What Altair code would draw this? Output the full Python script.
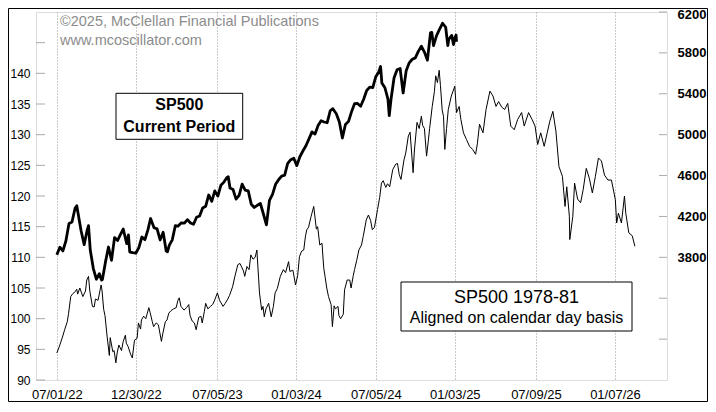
import altair as alt
import pandas as pd

# ---------------- data ----------------
# S&P 500, current period (right axis)
cur_dates = [
    "2022-07-01", "2022-07-08", "2022-07-15", "2022-07-22", "2022-07-29",
    "2022-08-05", "2022-08-12", "2022-08-16", "2022-08-19", "2022-08-26",
    "2022-09-02", "2022-09-09", "2022-09-12", "2022-09-16", "2022-09-23", "2022-09-30",
    "2022-10-07", "2022-10-12", "2022-10-14", "2022-10-21", "2022-10-28",
    "2022-11-04", "2022-11-11", "2022-11-18", "2022-11-25",
    "2022-12-01", "2022-12-09", "2022-12-13", "2022-12-16", "2022-12-23", "2022-12-30",
    "2023-01-06", "2023-01-13", "2023-01-20", "2023-01-27",
    "2023-02-02", "2023-02-10", "2023-02-17", "2023-02-24",
    "2023-03-03", "2023-03-10", "2023-03-13", "2023-03-17", "2023-03-24", "2023-03-31",
    "2023-04-06", "2023-04-14", "2023-04-21", "2023-04-28",
    "2023-05-05", "2023-05-12", "2023-05-19", "2023-05-26",
    "2023-06-02", "2023-06-09", "2023-06-16", "2023-06-23", "2023-06-30",
    "2023-07-07", "2023-07-14", "2023-07-21", "2023-07-28", "2023-07-31",
    "2023-08-04", "2023-08-11", "2023-08-18", "2023-08-25",
    "2023-09-01", "2023-09-08", "2023-09-15", "2023-09-22", "2023-09-29",
    "2023-10-06", "2023-10-13", "2023-10-20", "2023-10-27",
    "2023-11-03", "2023-11-10", "2023-11-17", "2023-11-24",
    "2023-12-01", "2023-12-08", "2023-12-15", "2023-12-22", "2023-12-29",
    "2024-01-05", "2024-01-12", "2024-01-19", "2024-01-26",
    "2024-02-02", "2024-02-09", "2024-02-16", "2024-02-23",
    "2024-03-01", "2024-03-08", "2024-03-15", "2024-03-22", "2024-03-28",
    "2024-04-05", "2024-04-12", "2024-04-19", "2024-04-26",
    "2024-05-03", "2024-05-10", "2024-05-17", "2024-05-24", "2024-05-31",
    "2024-06-07", "2024-06-14", "2024-06-21", "2024-06-28",
    "2024-07-05", "2024-07-12", "2024-07-16", "2024-07-19", "2024-07-26",
    "2024-08-02", "2024-08-05", "2024-08-09", "2024-08-16", "2024-08-23", "2024-08-30",
    "2024-09-06", "2024-09-13", "2024-09-20", "2024-09-27",
    "2024-10-04", "2024-10-11", "2024-10-18", "2024-10-25",
    "2024-11-01", "2024-11-08", "2024-11-11", "2024-11-15", "2024-11-22", "2024-11-29",
    "2024-12-06", "2024-12-13", "2024-12-18", "2024-12-20", "2024-12-27", "2024-12-31",
    "2025-01-03", "2025-01-06", "2025-01-07",
]
cur_values = [
    3825, 3899, 3863, 3962, 4130,
    4145, 4280, 4305, 4228, 4058,
    3924, 4067, 4110, 3873, 3693, 3586,
    3640, 3577, 3583, 3753, 3901,
    3771, 3993, 3965, 4026,
    4077, 3934, 4019, 3852, 3845, 3840,
    3895, 3999, 3973, 4071,
    4180, 4090, 4079, 3970,
    4046, 3862, 3855, 3917, 3971, 4109,
    4105, 4138, 4134, 4169,
    4136, 4124, 4192, 4205,
    4282, 4299, 4410, 4348, 4450,
    4399, 4505, 4536, 4582, 4589,
    4478, 4464, 4370, 4406,
    4516, 4457, 4450, 4320, 4288,
    4309, 4328, 4224, 4117,
    4358, 4415, 4514, 4559,
    4595, 4604, 4719, 4755, 4770,
    4697, 4784, 4840, 4891,
    4959, 5027, 5006, 5089,
    5137, 5124, 5117, 5234, 5254,
    5204, 5123, 4967, 5100,
    5128, 5223, 5303, 5305, 5278,
    5347, 5432, 5465, 5460,
    5567, 5615, 5667, 5505, 5459,
    5347, 5186, 5344, 5554, 5635, 5648,
    5408, 5626, 5703, 5738,
    5751, 5815, 5865, 5808,
    5729, 5996, 6001, 5871, 5969, 6032,
    6090, 6051, 5872, 5931, 5971, 5882,
    5942, 5975, 5909,
]

# S&P 500, 1978-81 (left axis), original dates
old_dates = [
    "1978-07-01", "1978-07-07", "1978-07-14", "1978-07-19", "1978-07-25", "1978-07-28",
    "1978-08-02", "1978-08-07", "1978-08-11", "1978-08-16", "1978-08-18", "1978-08-23", "1978-08-30",
    "1978-09-05", "1978-09-08", "1978-09-12", "1978-09-15", "1978-09-21", "1978-09-25", "1978-09-28",
    "1978-10-04", "1978-10-11", "1978-10-13", "1978-10-17", "1978-10-20", "1978-10-25", "1978-10-30",
    "1978-11-01", "1978-11-07", "1978-11-10", "1978-11-14", "1978-11-17", "1978-11-21", "1978-11-27",
    "1978-12-01", "1978-12-06", "1978-12-08", "1978-12-12", "1978-12-18", "1978-12-22", "1978-12-27",
    "1979-01-02", "1979-01-05", "1979-01-10", "1979-01-12", "1979-01-17", "1979-01-22", "1979-01-29",
    "1979-02-01", "1979-02-06", "1979-02-09", "1979-02-15", "1979-02-20", "1979-02-27",
    "1979-03-02", "1979-03-08", "1979-03-12", "1979-03-16", "1979-03-21", "1979-03-27",
    "1979-04-02", "1979-04-06", "1979-04-09", "1979-04-13", "1979-04-20", "1979-04-26",
    "1979-05-01", "1979-05-04", "1979-05-09", "1979-05-14", "1979-05-18", "1979-05-24", "1979-05-29",
    "1979-06-01", "1979-06-06", "1979-06-09", "1979-06-14", "1979-06-20", "1979-06-25", "1979-06-29",
    "1979-07-06", "1979-07-11", "1979-07-19", "1979-07-24", "1979-07-30",
    "1979-08-03", "1979-08-10", "1979-08-15", "1979-08-22", "1979-08-27",
    "1979-09-04", "1979-09-07", "1979-09-12", "1979-09-17", "1979-09-21", "1979-09-26",
    "1979-10-01", "1979-10-05", "1979-10-09", "1979-10-11", "1979-10-16", "1979-10-19", "1979-10-22", "1979-10-26",
    "1979-11-01", "1979-11-07", "1979-11-12", "1979-11-16", "1979-11-21", "1979-11-28",
    "1979-12-05", "1979-12-10", "1979-12-17", "1979-12-20", "1979-12-27",
    "1980-01-02", "1980-01-07", "1980-01-11", "1980-01-16", "1980-01-21", "1980-01-25", "1980-01-28",
    "1980-02-01", "1980-02-07", "1980-02-13", "1980-02-19", "1980-02-22", "1980-02-27",
    "1980-03-03", "1980-03-07", "1980-03-10", "1980-03-14", "1980-03-18", "1980-03-24", "1980-03-27", "1980-03-31",
    "1980-04-03", "1980-04-09", "1980-04-11", "1980-04-15", "1980-04-21", "1980-04-24", "1980-04-30",
    "1980-05-06", "1980-05-09", "1980-05-14", "1980-05-17", "1980-05-22", "1980-05-27",
    "1980-06-02", "1980-06-06", "1980-06-13", "1980-06-18", "1980-06-23", "1980-06-27",
    "1980-07-02", "1980-07-09", "1980-07-14", "1980-07-18", "1980-07-22", "1980-07-28",
    "1980-08-01", "1980-08-06", "1980-08-13", "1980-08-20", "1980-08-24", "1980-08-28",
    "1980-09-01", "1980-09-08", "1980-09-12", "1980-09-18", "1980-09-22", "1980-09-29",
    "1980-10-02", "1980-10-08", "1980-10-13", "1980-10-18", "1980-10-21", "1980-10-25", "1980-10-30",
    "1980-11-03", "1980-11-06", "1980-11-12", "1980-11-17", "1980-11-20", "1980-11-24", "1980-11-28",
    "1980-12-01", "1980-12-05", "1980-12-08", "1980-12-11", "1980-12-15", "1980-12-19", "1980-12-26",
    "1981-01-03", "1981-01-07", "1981-01-13", "1981-01-17", "1981-01-23", "1981-01-30",
    "1981-02-06", "1981-02-13", "1981-02-20", "1981-02-24",
    "1981-03-01", "1981-03-09", "1981-03-16", "1981-03-25",
    "1981-04-01", "1981-04-08", "1981-04-14", "1981-04-21", "1981-04-28",
    "1981-05-05", "1981-05-12", "1981-05-20", "1981-05-28",
    "1981-06-06", "1981-06-12", "1981-06-22", "1981-06-30",
    "1981-07-07", "1981-07-13", "1981-07-20", "1981-07-28",
    "1981-08-04", "1981-08-10", "1981-08-17", "1981-08-24", "1981-08-31",
    "1981-09-08", "1981-09-14", "1981-09-18", "1981-09-24", "1981-09-25",
    "1981-10-02", "1981-10-06", "1981-10-13", "1981-10-20", "1981-10-26",
    "1981-11-02", "1981-11-09", "1981-11-16", "1981-11-23", "1981-11-30",
    "1981-12-07", "1981-12-14", "1981-12-22", "1981-12-30",
    "1982-01-08", "1982-01-11", "1982-01-15", "1982-01-22", "1982-01-29",
    "1982-02-01", "1982-02-08", "1982-02-16", "1982-02-22",
]
old_values = [
    94.4, 95.5, 97.0, 98.2, 99.5, 100.8,
    103.6, 104.1, 104.3, 104.8, 104.0, 105.0, 103.6,
    104.5, 106.3, 106.9, 104.5, 102.0, 101.9, 103.2,
    103.0, 105.5, 104.7, 101.5, 100.5, 97.0, 94.0,
    96.9, 94.6, 94.8, 92.8, 94.4, 95.7, 94.8,
    96.3, 97.3, 96.0, 95.5, 94.2, 93.6, 96.5,
    96.8, 99.3, 98.3, 99.8, 100.4, 100.0, 101.8,
    101.0, 99.5, 98.7, 99.3, 99.0, 96.3,
    97.5, 99.5, 99.8, 100.9, 101.3, 101.6,
    101.8, 103.0, 103.4, 102.0, 101.4, 101.8,
    102.3, 100.5, 99.6, 99.3, 98.2, 100.2, 100.4,
    99.3, 101.2, 102.5, 101.6, 102.0, 102.3, 102.9,
    104.2, 103.0, 102.0, 102.5, 103.2,
    103.8, 105.2, 106.8, 108.8, 109.0,
    107.8, 106.9, 108.5, 108.0, 110.4, 109.7,
    110.0, 111.2, 106.5, 104.2, 101.4, 102.0, 100.3, 101.6,
    102.5, 100.3, 102.0, 104.2, 104.9, 106.9,
    108.0, 107.5, 109.3, 107.7, 107.9,
    105.5, 107.0, 110.1, 111.0, 111.2, 113.5, 114.5,
    114.9, 116.7, 118.3, 114.6, 115.0, 112.0,
    112.3, 108.3, 106.9, 105.0, 103.6, 102.3, 98.7, 102.1,
    101.6, 102.0, 100.5, 100.0, 100.7, 104.7, 106.3,
    106.3, 105.0, 107.0, 108.0, 109.5, 111.2,
    112.0, 113.4, 116.1, 116.9, 116.0, 114.5,
    114.9, 117.8, 119.8, 122.1, 122.5, 121.4,
    122.0, 121.5, 124.3, 125.2, 125.3, 123.5,
    122.7, 125.9, 127.0, 129.8, 130.4, 123.8,
    127.5, 132.0, 131.0, 133.0, 131.5, 131.0, 126.5,
    129.0, 131.0, 134.6, 137.0, 139.6, 138.5, 140.5,
    138.0, 134.0, 133.0, 127.6, 131.0, 134.1, 136.3,
    137.9, 133.6, 134.6, 132.5, 130.3, 129.2,
    128.1, 127.6, 126.8, 128.5,
    131.7, 130.3, 134.1, 137.1,
    136.3, 134.6, 135.4, 134.5, 134.1,
    135.1, 131.4, 130.8, 132.5,
    133.6, 131.4, 133.6, 132.5,
    131.4, 128.4, 130.3, 128.1,
    130.3, 132.2, 133.8, 130.6, 124.8,
    123.2, 118.3, 121.5, 116.7, 112.9,
    116.7, 122.1, 119.5, 118.9, 121.1,
    124.5, 122.9, 120.5, 123.2, 126.2,
    125.7, 123.4, 122.6, 122.6,
    119.4, 115.6, 117.2, 115.6, 120.0,
    117.2, 114.0, 113.5, 111.8,
]

tick_dates = ["2022-07-01", "2022-12-30", "2023-07-05", "2024-01-03",
              "2024-07-05", "2025-01-03", "2025-07-09", "2026-01-07"]
left_ticks = [90, 95, 100, 105, 110, 115, 120, 125, 130, 135, 140, 145]
right_ticks = [3000, 3400, 3800, 4200, 4600, 5000, 5400, 5800, 6200]

cur = pd.DataFrame({"date": pd.to_datetime(cur_dates), "value": cur_values})
old = pd.DataFrame({"date": pd.to_datetime(old_dates) + pd.DateOffset(years=44),
                    "value": old_values})


def dt(s):
    y, m, d = (int(p) for p in s.split("-"))
    return alt.DateTime(year=y, month=m, date=d)


FONT = "Liberation Sans"
W, H = 631, 368
left_scale = alt.Scale(domain=[90, 150], nice=False, zero=False)
right_scale = alt.Scale(domain=[2600, 6200], nice=False, zero=False)

x_enc = alt.X(
    "date:T",
    scale=alt.Scale(domain=[dt("2022-05-14"), dt("2026-05-07")]),
    axis=alt.Axis(values=[dt(s) for s in tick_dates], format="%m/%d/%y",
                  grid=True, gridDash=[1, 2], gridColor="#999999", gridWidth=1,
                  ticks=False, domain=False, labelFontSize=13, labelPadding=8,
                  labelColor="black", labelFont=FONT, title=None),
)

old_line = alt.Chart(old).mark_line(color="black", strokeWidth=1).encode(
    x=x_enc,
    y=alt.Y("value:Q", scale=left_scale,
            axis=alt.Axis(orient="left", values=left_ticks,
                          labelExpr="datum.value <= 140 ? datum.label : ''",
                          ticks=False, labelPadding=6, domain=False,
                          grid=False, labelFontSize=12,
                          labelColor="black", labelFont=FONT, title=None)),
)

cur_line = alt.Chart(cur).mark_line(color="black", strokeWidth=2.8,
                                    strokeJoin="round").encode(
    x=x_enc,
    y=alt.Y("value:Q", scale=right_scale,
            axis=alt.Axis(orient="right", values=right_ticks, format="d",
                          labelExpr="datum.value >= 3800 ? datum.label : ''",
                          labelFlush=True, labelFlushOffset=4,
                          ticks=False, labelPadding=10, domain=False,
                          grid=False, labelFontSize=13,
                          labelFontWeight="bold", labelColor="black",
                          labelFont=FONT, title=None)),
)

# inward-pointing tick marks
left_tick_marks = alt.Chart(pd.DataFrame({"v": left_ticks})).mark_rule(
    color="#aaaaaa", strokeWidth=1).encode(
    y=alt.Y("v:Q", scale=left_scale, axis=None),
    x=alt.value(0), x2=alt.value(9))

right_tick_marks = alt.Chart(pd.DataFrame({"v": right_ticks})).mark_rule(
    color="#aaaaaa", strokeWidth=1).encode(
    y=alt.Y("v:Q", scale=right_scale, axis=None),
    x=alt.value(W - 8), x2=alt.value(W))

one = pd.DataFrame({"k": [0]})


def box(x1, x2, y1, y2):
    return alt.Chart(one).mark_rect(fill="white", stroke="black", strokeWidth=1).encode(
        x=alt.value(x1), x2=alt.value(x2), y=alt.value(y1), y2=alt.value(y2))


def label(text, x, y, size, weight="normal", color="black", align="center"):
    return alt.Chart(one).mark_text(text=text, fontSize=size, fontWeight=weight,
                                    color=color, align=align, baseline="middle",
                                    font=FONT).encode(x=alt.value(x), y=alt.value(y))


PAD_L, PAD_T, PAD_R, PAD_B = 28, 4, 41, 22

frame = alt.Chart(one).mark_rect(fillOpacity=0, stroke="black", strokeWidth=1).encode(
    x=alt.value(-PAD_L + 0.5), x2=alt.value(W + PAD_R - 0.5),
    y=alt.value(-PAD_T + 0.5), y2=alt.value(H + PAD_B - 0.5))

layers = alt.layer(
    left_tick_marks,
    right_tick_marks,
    old_line,
    cur_line,
    label("\u00a92025, McClellan Financial Publications", 24, 10, 14.5, color="#8c8c8c", align="left"),
    label("www.mcoscillator.com", 24, 29, 14.5, color="#8c8c8c", align="left"),
    box(80, 206.7, 81.3, 127.3),
    label("SP500", 143.3, 92.5, 16, weight="bold"),
    label("Current Period", 143.3, 114.5, 16, weight="bold"),
    box(365, 596, 270, 319),
    label("SP500 1978-81", 480.5, 285.5, 18),
    label("Aligned on calendar day basis", 480.5, 306, 16),
    frame,
).resolve_scale(y="independent").properties(
    width=W, height=H,
    autosize=alt.AutoSizeParams(type="none"),
    padding={"left": PAD_L, "top": PAD_T, "right": PAD_R, "bottom": PAD_B},
).configure_view(stroke="#aaaaaa", strokeWidth=1).configure(background="white")

chart = layers
chart.save("out.html", embed_options={"renderer": "svg", "actions": False})
